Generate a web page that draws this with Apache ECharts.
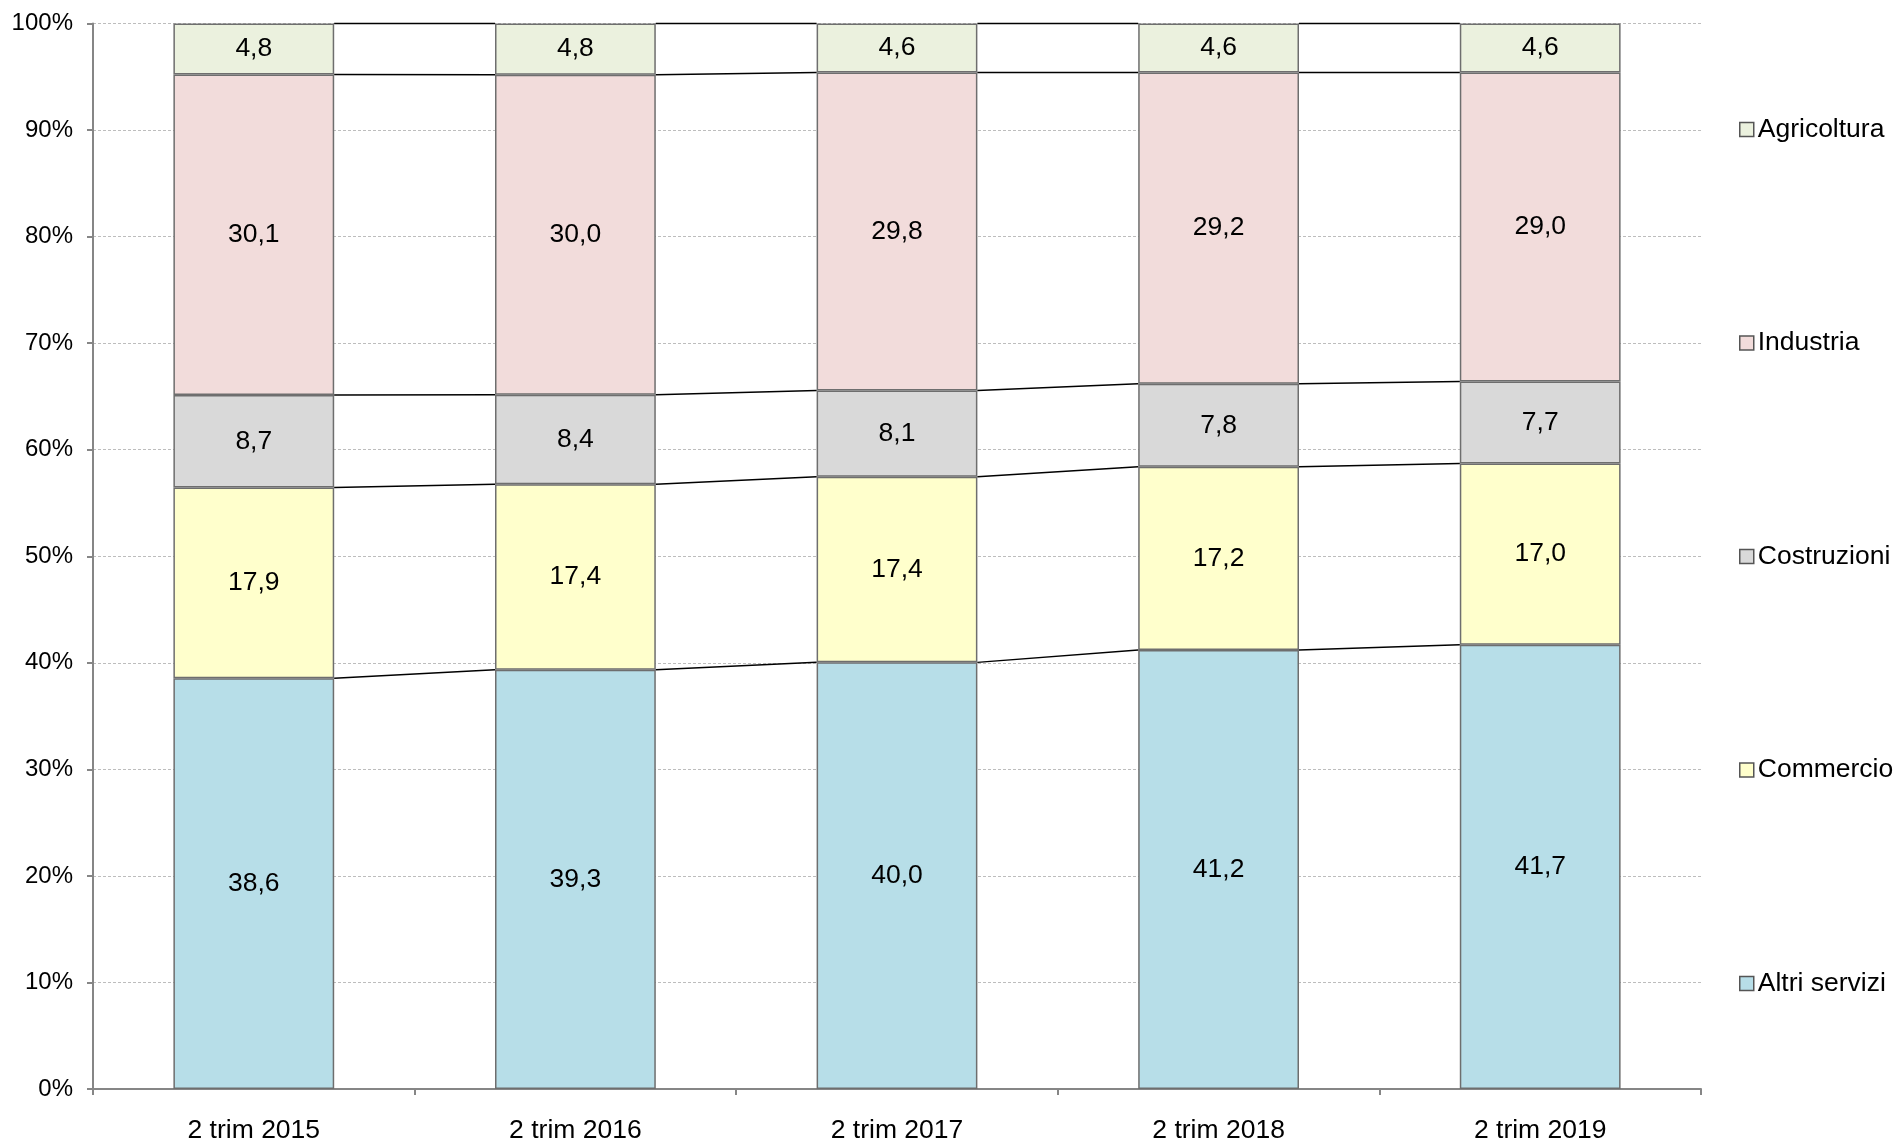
<!DOCTYPE html>
<html>
<head>
<meta charset="utf-8">
<title>Composizione per settore</title>
<script src="https://cdn.jsdelivr.net/npm/echarts@6/dist/echarts.min.js"></script>
<style>
  html, body { margin: 0; padding: 0; background: #fff; }
  #chart { width: 1898px; height: 1144px; }
</style>
</head>
<body>
<div id="chart"></div>
<script>
// categorie (asse x)
const categories = ['2 trim 2015', '2 trim 2016', '2 trim 2017', '2 trim 2018', '2 trim 2019'];

// valori per settore (quote %), dal basso verso l'alto
const altriServizi = [38.6, 39.3, 40.0, 41.2, 41.7];
const commercio    = [17.9, 17.4, 17.4, 17.2, 17.0];
const costruzioni  = [8.7, 8.4, 8.1, 7.8, 7.7];
const industria    = [30.1, 30.0, 29.8, 29.2, 29.0];
const agricoltura  = [4.8, 4.8, 4.6, 4.6, 4.6];

const yTicks = [0, 10, 20, 30, 40, 50, 60, 70, 80, 90, 100];

const stack = [
  { name: 'Altri servizi', values: altriServizi, color: '#B7DEE8' },
  { name: 'Commercio', values: commercio, color: '#FFFFCC' },
  { name: 'Costruzioni', values: costruzioni, color: '#D9D9D9' },
  { name: 'Industria', values: industria, color: '#F2DCDB' },
  { name: 'Agricoltura', values: agricoltura, color: '#EBF1DE' }
];

// grafico 100%: normalizzo ogni colonna sul totale
const totals = categories.map((c, i) => stack.reduce((s, d) => s + d.values[i], 0));

const FONT = 'Arial';
const BAR_RATIO = 0.5;

let series = stack.map(d => ({
  name: d.name,
  type: 'bar',
  stack: 'tot',
  barWidth: (BAR_RATIO * 100) + '%',
  itemStyle: { color: d.color, borderColor: '#6e6e6e', borderWidth: 1.5 },
  label: {
    show: true,
    position: 'inside',
    color: '#000',
    fontFamily: FONT,
    fontSize: 26.5,
    formatter: p => d.values[p.dataIndex].toFixed(1).replace('.', ',')
  },
  data: d.values.map((v, i) => v / totals[i] * 100)
}));

// linee di collegamento tra le colonne (cima di ogni segmento)
let linkData = [];
stack.forEach((d, s) =>
{
  const tops = categories.map((c, i) =>
  {
    let sum = 0;
    for (let k = 0; k <= s; k++) sum += stack[k].values[i] / totals[i] * 100;
    return sum;
  });
  for (let i = 0; i < categories.length - 1; i++)
  {
    linkData.push([i, tops[i], tops[i + 1]]);
  }
});

series.push({
  type: 'custom',
  name: 'linee',
  z: 5,
  silent: true,
  encode: { x: 0, y: 1 },
  renderItem: (params, api) =>
  {
    const i = api.value(0);
    const p0 = api.coord([i, api.value(1)]);
    const p1 = api.coord([i + 1, api.value(2)]);
    const half = api.size([1, 0])[0] * BAR_RATIO / 2;
    return {
      type: 'line',
      shape: { x1: p0[0] + half, y1: p0[1], x2: p1[0] - half, y2: p1[1] },
      style: { stroke: '#000', lineWidth: 1.5 }
    };
  },
  data: linkData
});

const chart = echarts.init(document.getElementById('chart'));
chart.setOption({
  animation: false,
  textStyle: { fontFamily: FONT },
  grid: { left: 93, right: 197, top: 23.5, bottom: 54 },
  legend: {
    orient: 'vertical',
    left: 1734,
    top: 111,
    itemWidth: 14,
    itemHeight: 14,
    itemGap: 186.5,
    icon: 'rect',
    itemStyle: { borderColor: '#555', borderWidth: 1.5 },
    textStyle: { fontSize: 26.5, color: '#000', fontFamily: FONT, padding: [0, 0, 0, -1] },
    data: ['Agricoltura', 'Industria', 'Costruzioni', 'Commercio', 'Altri servizi']
  },
  xAxis: {
    type: 'category',
    data: categories,
    axisLine: { lineStyle: { color: '#868686', width: 2 } },
    axisTick: { show: true, length: 6, lineStyle: { color: '#868686', width: 2 } },
    axisLabel: { color: '#000', fontSize: 26.5, margin: 28, fontFamily: FONT }
  },
  yAxis: {
    type: 'value',
    min: yTicks[0],
    max: yTicks[yTicks.length - 1],
    interval: yTicks[1] - yTicks[0],
    axisLine: { show: true, lineStyle: { color: '#868686', width: 2 } },
    axisTick: { show: true, length: 6, lineStyle: { color: '#868686', width: 2 } },
    axisLabel: { color: '#000', fontSize: 24, margin: 20, formatter: '{value}%', fontFamily: FONT },
    splitLine: { show: true, lineStyle: { color: '#bdbdbd', type: [3, 2], width: 1 } }
  },
  series: series
});
</script>
</body>
</html>
